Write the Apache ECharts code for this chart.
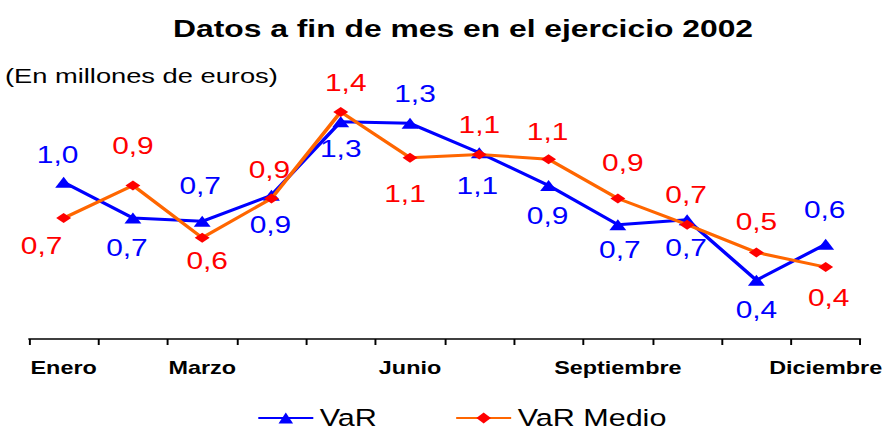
<!DOCTYPE html>
<html>
<head>
<meta charset="utf-8">
<script src="https://cdn.jsdelivr.net/npm/echarts@6/dist/echarts.min.js"></script>
<style>
  html, body { margin: 0; padding: 0; background: #fff; overflow: hidden; }
  #wrap { width: 886px; height: 432px; overflow: hidden; }
  #chart { width: 682px; height: 432px; transform-origin: 0 0; }
</style>
</head>
<body>
<div id="wrap"><div id="chart"></div></div>
<script>
// ---- data ----
const months = ['Enero', 'Febrero', 'Marzo', 'Abril', 'Mayo', 'Junio', 'Julio', 'Agosto', 'Septiembre', 'Octubre', 'Noviembre', 'Diciembre'];
const shownMonths = [0, 2, 5, 8, 11];
const varValues = [0.96, 0.74, 0.72, 0.88, 1.33, 1.32, 1.14, 0.94, 0.70, 0.73, 0.36, 0.58];
const varMedioValues = [0.74, 0.94, 0.62, 0.86, 1.39, 1.11, 1.13, 1.10, 0.86, 0.70, 0.53, 0.44];
const titleText = 'Datos a fin de mes en el ejercicio 2002';
const subtitleText = '(En millones de euros)';

// ---- layout (drawn at 682px wide, stretched horizontally like the reference) ----
const W = 682;
const S = 886 / W;
const chartEl = document.getElementById('chart');
chartEl.style.transform = 'scaleX(' + S + ')';

const FONT = '"Liberation Sans", Arial, sans-serif';
const px = v => v / S; // reference x-distance -> pre-stretch

// label offsets (reference px) for each point
const varLabelOff = [[-6,-27],[-6,30],[-2,-35],[-1,30],[0,28],[5,-29],[-2,33],[-1,31],[2,26],[-1,29],[0,30],[-1,-34]];
const medLabelOff = [[-22,28],[0,-39],[5,24],[-2,-28],[5,-29],[-5,37],[0,-29],[-1,-27],[5,-35],[-1,-29],[0,-30],[3,31]];

function buildData(values, offs) {
  return values.map((v, i) => ({
    value: v,
    label: { offset: [px(offs[i][0]), offs[i][1]] }
  }));
}
const fmt = p => p.value.toFixed(1).replace('.', ',');

const chart = echarts.init(chartEl, null, { renderer: 'svg' });
chart.setOption({
  animation: false,
  backgroundColor: '#fff',
  title: [
    { text: titleText, left: px(173), top: 16, padding: 0,
      textStyle: { fontFamily: FONT, fontSize: 24.5, fontWeight: 'bold', color: '#000' } },
    { text: subtitleText, left: px(5), top: 65, padding: 0,
      textStyle: { fontFamily: FONT, fontSize: 21, fontWeight: 'normal', color: '#000' } }
  ],
  legend: {
    left: px(257), top: 406, padding: 0,
    itemWidth: px(55), itemHeight: 14, itemGap: 60,
    textStyle: { fontFamily: FONT, fontSize: 23.5, lineHeight: 24, color: '#000' },
    data: ['VaR', 'VaR Medio']
  },
  grid: { left: px(29), right: W - px(863), top: 77.6, bottom: 93, containLabel: false },
  xAxis: {
    type: 'category',
    data: months,
    boundaryGap: true,
    axisLine: { lineStyle: { color: '#000', width: 1.5 } },
    axisTick: { show: true, interval: 0, length: 6, lineStyle: { color: '#000', width: 1.5 } },
    axisLabel: {
      interval: (idx) => shownMonths.includes(idx),
      margin: 20,
      fontFamily: FONT, fontSize: 18, fontWeight: 'bold', color: '#000'
    },
    splitLine: { show: false }
  },
  yAxis: { type: 'value', min: 0, max: 1.6, show: false },
  series: [
    {
      name: 'VaR', type: 'line',
      data: buildData(varValues, varLabelOff),
      symbol: 'triangle', symbolSize: [13, 11],
      lineStyle: { color: '#0000FF', width: 3 },
      itemStyle: { color: '#0000FF' },
      label: { show: true, position: 'inside', formatter: fmt,
        fontFamily: FONT, fontSize: 23, color: '#0000FF' },
      z: 3
    },
    {
      name: 'VaR Medio', type: 'line',
      data: buildData(varMedioValues, medLabelOff),
      symbol: 'diamond', symbolSize: [11.5, 10],
      lineStyle: { color: '#FF6600', width: 3 },
      itemStyle: { color: '#FF0000' },
      label: { show: true, position: 'inside', formatter: fmt,
        fontFamily: FONT, fontSize: 23, color: '#FF0000' },
      z: 4
    }
  ]
});
</script>
</body>
</html>
